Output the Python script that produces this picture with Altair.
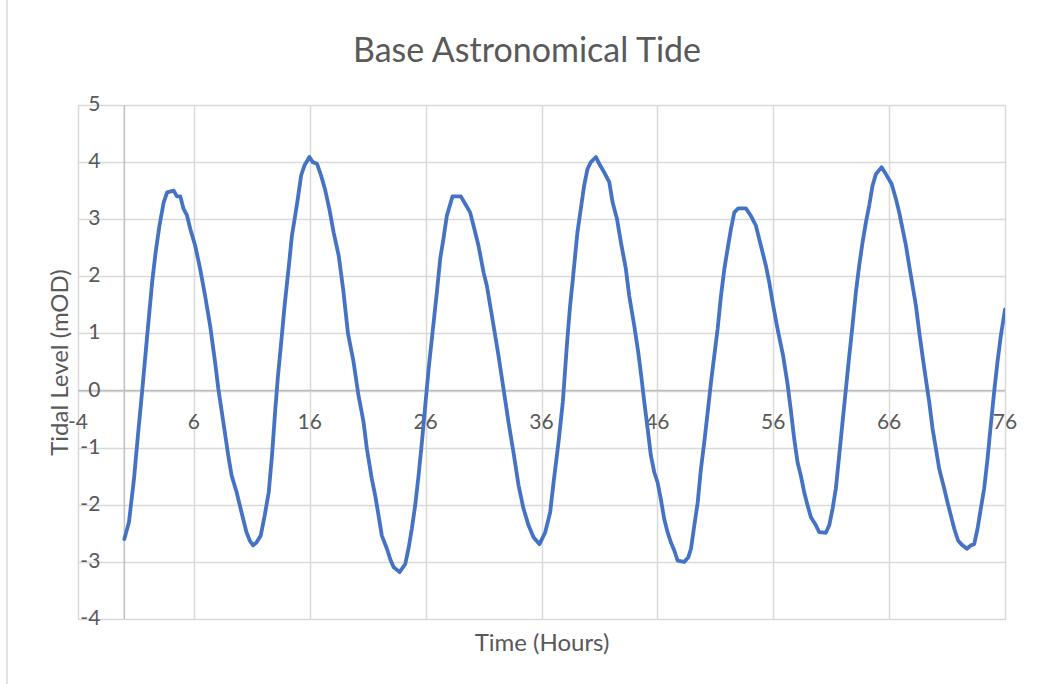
import altair as alt
import pandas as pd

# ---- data ----
time_hours = [
    0.0, 0.4, 0.83, 1.17, 1.54, 1.97, 2.4, 2.7, 3.03, 3.4, 3.69, 4.26, 4.54, 4.83,
    5.11, 5.4, 5.69, 6.11, 6.54, 6.97, 7.4, 7.83, 8.11, 8.54, 8.97, 9.26, 9.69,
    10.11, 10.54, 10.83, 11.11, 11.4, 11.77, 12.11, 12.46, 12.74, 13.03, 13.26,
    13.54, 13.83, 14.17, 14.46, 14.74, 14.97, 15.26, 15.54, 15.97, 16.26, 16.63,
    16.97, 17.31, 17.69, 18.06, 18.5, 18.88, 19.3, 19.78, 20.21, 20.64, 20.93,
    21.36, 21.65, 21.94, 22.22, 22.66, 22.94, 23.23, 23.75, 24.24, 24.52, 24.81,
    25.1, 25.39, 25.68, 25.97, 26.26, 26.63, 26.97, 27.26, 27.54, 27.83, 28.32,
    29.04, 29.41, 29.84, 30.13, 30.56, 31.0, 31.28, 31.57, 31.86, 32.29, 32.72,
    33.15, 33.58, 34.02, 34.45, 34.88, 35.31, 35.83, 36.32, 36.75, 37.04, 37.47,
    37.84, 38.2, 38.47, 38.68, 39.1, 39.39, 39.68, 39.97, 40.26, 40.7, 40.98,
    41.41, 41.85, 42.13, 42.51, 42.85, 43.28, 43.57, 44.0, 44.35, 44.64, 44.87,
    45.16, 45.44, 45.73, 46.02, 46.3, 46.59, 46.88, 47.17, 47.46, 47.75, 48.32,
    48.67, 48.9, 49.19, 49.48, 49.76, 50.05, 50.34, 50.63, 50.91, 51.2, 51.49,
    51.78, 52.06, 52.35, 52.64, 52.98, 53.64, 54.07, 54.5, 54.93, 55.36, 55.65,
    55.94, 56.37, 56.85, 57.23, 57.52, 57.81, 58.1, 58.38, 58.67, 58.96, 59.25,
    59.68, 59.97, 60.54, 60.83, 61.12, 61.4, 61.69, 61.98, 62.27, 62.56, 62.84,
    63.13, 63.42, 63.71, 64.0, 64.28, 64.57, 64.86, 65.35, 65.72, 66.21, 66.58,
    66.87, 67.16, 67.45, 67.73, 68.02, 68.31, 68.6, 68.88, 69.17, 69.46, 69.75,
    70.04, 70.32, 70.76, 71.04, 71.33, 71.62, 71.96, 72.33, 72.71, 73.05, 73.34,
    73.63, 73.91, 74.2, 74.49, 74.77, 75.06, 75.35, 75.64, 76.0,
]
tide_level = [
    -2.6, -2.3, -1.55, -0.79, 0.0, 0.96, 1.9, 2.42, 2.89, 3.3, 3.47, 3.5, 3.4, 3.4,
    3.18, 3.07, 2.83, 2.54, 2.13, 1.66, 1.14, 0.5, 0.03, -0.55, -1.14, -1.49, -1.78,
    -2.13, -2.48, -2.63, -2.71, -2.66, -2.54, -2.19, -1.78, -1.14, -0.32, 0.26,
    0.85, 1.49, 2.13, 2.71, 3.06, 3.36, 3.77, 3.94, 4.09, 4.0, 3.97,
    3.77, 3.53, 3.18, 2.77, 2.36, 1.78, 1.0, 0.5, -0.09, -0.55, -1.02,
    -1.55, -1.84, -2.19, -2.54, -2.77, -2.95, -3.09, -3.18, -3.04, -2.77, -2.42,
    -2.01, -1.49, -0.9, -0.26, 0.38, 1.08, 1.72, 2.31, 2.66, 3.06, 3.4,
    3.4, 3.27, 3.12, 2.89, 2.54, 2.07, 1.84, 1.49, 1.14, 0.61, 0.03,
    -0.55, -1.08, -1.66, -2.07, -2.36, -2.57, -2.69, -2.48, -2.13, -1.61, -0.9,
    -0.2, 0.82, 1.49, 1.9, 2.77, 3.18, 3.59, 3.88, 4.0, 4.09, 3.97,
    3.82, 3.65, 3.3, 3.01, 2.6, 2.13, 1.66, 1.14, 0.67, 0.2, -0.2,
    -0.67, -1.14, -1.43, -1.61, -1.9, -2.25, -2.48, -2.66, -2.8, -2.98, -3.0,
    -2.92, -2.77, -2.36, -1.96, -1.37, -0.9, -0.38, 0.15, 0.61, 1.08, 1.66,
    2.13, 2.48, 2.83, 3.12, 3.19, 3.19, 3.06, 2.89, 2.54, 2.19, 1.9,
    1.55, 1.08, 0.61, 0.12, -0.35, -0.85, -1.26, -1.49, -1.78, -2.01, -2.22,
    -2.36, -2.48, -2.49, -2.36, -2.07, -1.72, -1.14, -0.55, 0.03, 0.61, 1.14,
    1.72, 2.19, 2.6, 2.95, 3.24, 3.59, 3.79, 3.91, 3.79, 3.62, 3.36,
    3.12, 2.83, 2.54, 2.19, 1.84, 1.49, 1.02, 0.61, 0.2, -0.2, -0.67,
    -1.02, -1.37, -1.72, -1.96, -2.19, -2.42, -2.63, -2.71, -2.77, -2.71, -2.69,
    -2.42, -2.07, -1.72, -1.2, -0.61, -0.03, 0.5, 0.96, 1.42,
]
x_ticks = [-4, 6, 16, 26, 36, 46, 56, 66, 76]
y_ticks = [-4, -3, -2, -1, 0, 1, 2, 3, 4, 5]
chart_title = ["Base Astronomical Tide"]

FONT = "Lato"
TEXT = "#595959"
GRID = "#D9D9D9"
AXIS = "#BFBFBF"
LINE = "#4472C4"

df = pd.DataFrame({"t": time_hours, "v": tide_level})
xt = pd.DataFrame({"t": x_ticks, "v": [0] * len(x_ticks), "label": [str(v) for v in x_ticks]})
yt = pd.DataFrame({"v": y_ticks, "t": [0] * len(y_ticks), "label": [str(v) for v in y_ticks]})
zero = pd.DataFrame({"t": [0], "v": [0]})
title_df = pd.DataFrame({"label": chart_title})

xscale = alt.Scale(domain=[-4, 76], nice=False, zero=False)
yscale = alt.Scale(domain=[-4, 5], nice=False, zero=False)

xaxis = alt.Axis(values=x_ticks, grid=True, gridColor=GRID, gridWidth=1.5,
                 labels=False, ticks=False, domain=False,
                 title="Time (Hours)", titleFont=FONT, titleFontSize=24,
                 titleFontWeight="normal", titleColor=TEXT, titlePadding=12)
yaxis = alt.Axis(values=y_ticks, grid=True, gridColor=GRID, gridWidth=1.5,
                 labels=False, ticks=False, domain=False,
                 title="Tidal Level (mOD)", titleFont=FONT, titleFontSize=24,
                 titleFontWeight="normal", titleColor=TEXT, titlePadding=6)

X = alt.X("t:Q", scale=xscale, axis=xaxis)
Y = alt.Y("v:Q", scale=yscale, axis=yaxis)

vrule = alt.Chart(zero).mark_rule(color=AXIS, strokeWidth=1.5).encode(x=X)
hrule = alt.Chart(zero).mark_rule(color=AXIS, strokeWidth=1.5).encode(y=Y)

xlabels = alt.Chart(xt).mark_text(font=FONT, fontSize=21, color=TEXT,
                                  baseline="middle", align="center", dy=32).encode(
    x=X, y=Y, text="label:N")
ylabels = alt.Chart(yt).mark_text(font=FONT, fontSize=21, color=TEXT,
                                  baseline="middle", align="right", dx=-24).encode(
    x=X, y=Y, text="label:N")

line = alt.Chart(df).mark_line(color=LINE, strokeWidth=3.8, clip=True,
                               strokeJoin="round", strokeCap="round").encode(x=X, y=Y)

border = alt.Chart(zero).mark_rule(color=GRID, strokeWidth=1.5).encode(
    x=alt.value(-71), y=alt.value(-105), y2=alt.value(579))

title = alt.Chart(title_df).mark_text(font=FONT, fontSize=34, color=TEXT,
                                      align="center", baseline="alphabetic").encode(
    x=alt.value(449), y=alt.value(-43), text="label:N")

chart = alt.layer(border, vrule, hrule, xlabels, ylabels, line, title).properties(
    width=927, height=514,
    padding={"left": 78, "top": 105, "right": 32, "bottom": 65},
    autosize=alt.AutoSizeParams(type="none"),
).configure_view(stroke=GRID, strokeWidth=1.5).configure(background="white")

chart.save("out.html", embed_options={"renderer": "svg", "actions": False})
